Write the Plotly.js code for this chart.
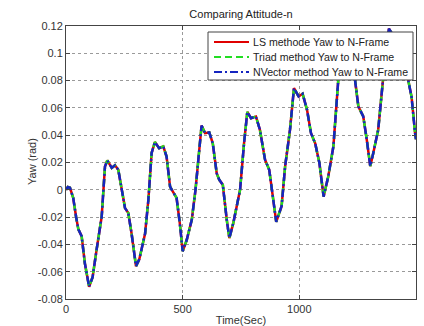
<!DOCTYPE html>
<html>
<head>
<meta charset="utf-8">
<script src="https://cdn.plot.ly/plotly-3.0.1.min.js"></script>
<style>html,body{margin:0;padding:0;background:#fff;}#chart{width:424px;height:326px;}</style>
</head>
<body>
<div id="chart"></div>
<script>
const timeSec = [0, 8, 17, 31, 43, 53, 67, 81, 99, 114, 131, 153, 167, 177, 196, 210, 224, 239, 253, 267, 281, 300, 314, 339, 353, 367, 381, 399, 417, 431, 446, 453, 474, 488, 500, 517, 539, 555, 565, 581, 596, 614, 629, 646, 657, 672, 689, 700, 717, 746, 763, 777, 793, 814, 831, 853, 871, 888, 901, 924, 939, 960, 977, 997, 1014, 1033, 1050, 1068, 1086, 1104, 1124, 1146, 1167, 1200, 1239, 1253, 1274, 1289, 1304, 1317, 1338, 1360, 1384, 1420, 1450, 1467, 1481, 1496, 1500];
const yawLS = [0.000, 0.002, 0.0015, -0.006, -0.0196, -0.029, -0.034, -0.054, -0.071, -0.064, -0.044, -0.0196, 0.017, 0.0215, 0.016, 0.018, 0.0147, 0.000, -0.0134, -0.017, -0.032, -0.056, -0.051, -0.032, -0.0073, 0.027, 0.035, 0.0305, 0.0318, 0.0244, 0.0024, 0.0002, -0.006, -0.025, -0.045, -0.037, -0.022, 0.000, 0.020, 0.047, 0.0415, 0.042, 0.034, 0.012, 0.0073, 0.0037, -0.022, -0.0354, -0.0244, 0.000, 0.034, 0.057, 0.0525, 0.0537, 0.044, 0.022, 0.0147, -0.0073, -0.0235, -0.012, 0.017, 0.044, 0.0745, 0.0684, 0.0704, 0.0586, 0.0415, 0.034, 0.0196, -0.005, 0.0098, 0.0318, 0.0806, 0.099, 0.080, 0.061, 0.0537, 0.0367, 0.0173, 0.027, 0.044, 0.083, 0.118, 0.108, 0.094, 0.080, 0.068, 0.0415, 0.037];
const yawTriad = yawLS.slice();
const yawNVector = yawLS.slice();
const seriesNames = ["LS methode Yaw to N-Frame", "Triad method Yaw to N-Frame", "NVector method Yaw to N-Frame"];
const xTickVals = [0, 500, 1000, 1500];
const xTickText = ["0", "500", "1000", "1500"];
const yTickVals = [-0.08, -0.06, -0.04, -0.02, 0, 0.02, 0.04, 0.06, 0.08, 0.1, 0.12];
const yTickText = ["-0.08", "-0.06", "-0.04", "-0.02", "0", "0.02", "0.04", "0.06", "0.08", "0.1", "0.12"];

const fontFam = "Liberation Sans, Arial, sans-serif";
const colors = ["#e00000", "#22dd22", "#1525c0"];
const dashes = ["solid", "7px,4px", "8px,3px,2px,3px"];
const series = [yawLS, yawTriad, yawNVector];
const traces = series.map((ys, i) => ({
  x: timeSec, y: ys, name: seriesNames[i], mode: "lines",
  line: {color: colors[i], width: 2.5, dash: dashes[i]}, showlegend: false
}));

// Legend box drawn in paper coordinates (plot area: 350 x 273 px)
const W = 350, H = 273;
const px = v => (v - 66) / W;
const py = v => (299 - v) / H;
const shapes = [
  {type: "rect", xref: "paper", yref: "paper", x0: px(208), x1: px(413), y0: py(80), y1: py(32),
   fillcolor: "#fff", line: {color: "#444", width: 1}, layer: "above"}
];
const annotations = [];
const rowY = [42, 57, 72];
seriesNames.forEach((nm, i) => {
  shapes.push({type: "line", xref: "paper", yref: "paper", x0: px(214), x1: px(249), y0: py(rowY[i]), y1: py(rowY[i]),
    line: {color: colors[i], width: 2, dash: dashes[i]}, layer: "above"});
  annotations.push({xref: "paper", yref: "paper", x: px(251), y: py(rowY[i]), xanchor: "left", yanchor: "middle",
    text: nm, showarrow: false, font: {family: fontFam, size: 10.6, color: "#222"}});
});
annotations.push({xref: "paper", yref: "paper", x: px(32), y: py(162), xanchor: "center", yanchor: "middle",
  text: "Yaw (rad)", textangle: -90, showarrow: false, font: {family: fontFam, size: 11, color: "#333"}});

const axisCommon = {
  showline: true, linecolor: "#444", linewidth: 1, mirror: "allticks",
  ticks: "inside", ticklen: 4, tickcolor: "#444",
  showgrid: true, gridcolor: "#9a9a9a", griddash: "dot", gridwidth: 1,
  zeroline: false, tickfont: {family: fontFam, size: 11, color: "#333"}
};
const layout = {
  width: 424, height: 326,
  margin: {l: 66, r: 8, t: 26, b: 27},
  paper_bgcolor: "#fff", plot_bgcolor: "#fff",
  font: {family: fontFam, size: 11, color: "#222"},
  title: {text: "Comparing Attitude-n", x: 0.5, xref: "paper", y: 1 - 14/326, yref: "container", yanchor: "middle", font: {family: fontFam, size: 11, color: "#222"}},
  xaxis: Object.assign({}, axisCommon, {range: [0, 1500], tickmode: "array", tickvals: xTickVals, ticktext: xTickText,
    title: {text: "Time(Sec)", standoff: 2, font: {family: fontFam, size: 11, color: "#333"}}}),
  yaxis: Object.assign({}, axisCommon, {range: [-0.08, 0.12], tickmode: "array", tickvals: yTickVals, ticktext: yTickText}),
  shapes: shapes,
  annotations: annotations,
  showlegend: false
};
Plotly.newPlot("chart", traces, layout, {staticPlot: true, displayModeBar: false});
</script>
</body>
</html>
